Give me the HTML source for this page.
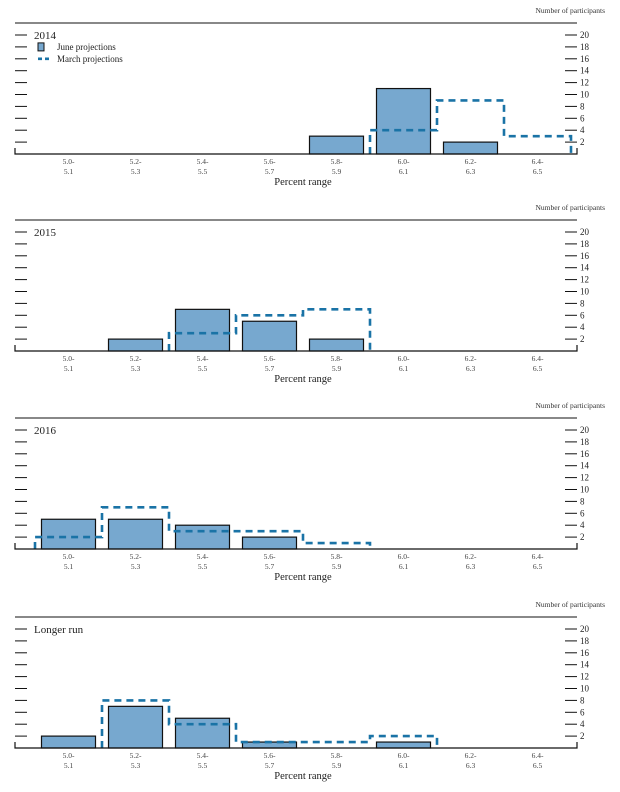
<!DOCTYPE html>
<html><head><meta charset="utf-8"><style>
html,body{margin:0;padding:0;background:#fff;}
svg{display:block;font-family:"Liberation Serif",serif;}
</style></head><body>
<svg id="chart" width="620" height="792" viewBox="0 0 620 792"></svg>
<script>
const categories = ["5.0-|5.1","5.2-|5.3","5.4-|5.5","5.6-|5.7","5.8-|5.9","6.0-|6.1","6.2-|6.3","6.4-|6.5"];
const panelTitles = ["2014","2015","2016","Longer run"];
const juneValues = [
  [0,0,0,0,3,11,2,0],
  [0,2,7,5,2,0,0,0],
  [5,5,4,2,0,0,0,0],
  [2,7,5,1,0,1,0,0]
];
const marchValues = [
  [0,0,0,0,0,4,9,3],
  [0,0,3,6,7,0,0,0],
  [2,7,3,3,1,0,0,0],
  [0,8,4,1,1,2,0,0]
];
const yTicks = [2,4,6,8,10,12,14,16,18,20];

const NS="http://www.w3.org/2000/svg";
const svg=document.getElementById('chart');
function mk(tag,attrs,parent){const e=document.createElementNS(NS,tag);for(const k in attrs)e.setAttribute(k,attrs[k]);(parent||svg).appendChild(e);return e;}

const panelTops=[23,220,418,617];
const xLeft=15,xRight=577,catStart=35,catW=67;
function xCenter(i){return catStart+catW*(i+0.5);}

panelTops.forEach((top,p)=>{
  const base=top+131;
  const unit=(base-35-top+23)/20; // ~5.95
  const y=v=>base-v*unit;
  const g=mk('g',{});
  
  
  const t0=mk('text',{x:605,y:top-10,'font-size':7.5,'text-anchor':'end',fill:'#333'},g);
  t0.textContent='Number of participants';
  
  
  const r=mk('line',{x1:xLeft,x2:xRight,y1:top,y2:top,stroke:'#111','stroke-width':1},g);
  
  
  yTicks.forEach(v=>{
    const ty=y(v);
    const lt=mk('line',{x1:xLeft,x2:27,y1:ty,y2:ty,stroke:'#111','stroke-width':1},g);
    
    
    const rt=mk('line',{x1:565,x2:xRight,y1:ty,y2:ty,stroke:'#111','stroke-width':1},g);
    
    
    const tl=mk('text',{x:580,y:ty+3,'font-size':9,fill:'#222'},g);
    tl.textContent=v;
    
    
  });
  // June bars
  juneValues[p].forEach((v,i)=>{
    if(v<=0)return;
    const b=mk('rect',{x:xCenter(i)-27,y:y(v),width:54,height:base-y(v),fill:'#77a8cf',stroke:'#111','stroke-width':1.2},g);
    
    
  });
  // March step
  const mv=marchValues[p];
  let d='';let started=false;let last=0;
  mv.forEach((v,i)=>{
    const x0=catStart+catW*i,x1=x0+catW;
    if(!started){if(v>0){d+='M'+x0+','+base+' L'+x0+','+y(v)+' L'+x1+','+y(v);started=true;last=v;}return;}
    if(last===0)return;
    if(v===0){d+=' L'+x0+','+base;last=0;return;}
    d+=' L'+x0+','+y(v)+' L'+x1+','+y(v);last=v;
  });
  if(started&&last>0){d+=' L'+(catStart+catW*mv.length)+','+base;}
  const mp=mk('path',{d:d,fill:'none',stroke:'#1a73a6','stroke-width':2.6,'stroke-dasharray':'7,5'},g);
  
  
  // axes
  const ax=mk('path',{d:'M'+xLeft+','+(base-6)+' L'+xLeft+','+base+' L'+xRight+','+base+' L'+xRight+','+(base-6),fill:'none',stroke:'#111','stroke-width':1.2},g);
  
  
  categories.forEach((c,i)=>{
    const parts=c.split('|');
    const tx=mk('text',{x:xCenter(i),y:base+10,'font-size':7.5,'text-anchor':'middle',fill:'#444'},g);
    tx.textContent=parts[0];
    
    
    const tx2=mk('text',{x:xCenter(i),y:base+20,'font-size':7.5,'text-anchor':'middle',fill:'#444'},g);
    tx2.textContent=parts[1];
    
    
  });
  const xt=mk('text',{x:303,y:base+31,'font-size':10.5,'text-anchor':'middle',fill:'#222'},g);
  xt.textContent='Percent range';
  
  
  const pt=mk('text',{x:34,y:y(20)+4,'font-size':11,fill:'#222'},g);
  pt.textContent=panelTitles[p];
  
  
  if(p===0){
    const sq=mk('rect',{x:38,y:y(18)-4,width:6,height:8,fill:'#77a8cf',stroke:'#111','stroke-width':1},g);
    
    
    const l1=mk('text',{x:57,y:y(18)+3,'font-size':9,fill:'#222'},g);
    l1.textContent='June projections';
    
    
    const ln=mk('line',{x1:38,x2:50,y1:y(16),y2:y(16),stroke:'#1a73a6','stroke-width':2.6,'stroke-dasharray':'4,3'},g);
    
    
    const l2=mk('text',{x:57,y:y(16)+3,'font-size':9,fill:'#222'},g);
    l2.textContent='March projections';
    
    
  }
});
</script>
</body></html>
